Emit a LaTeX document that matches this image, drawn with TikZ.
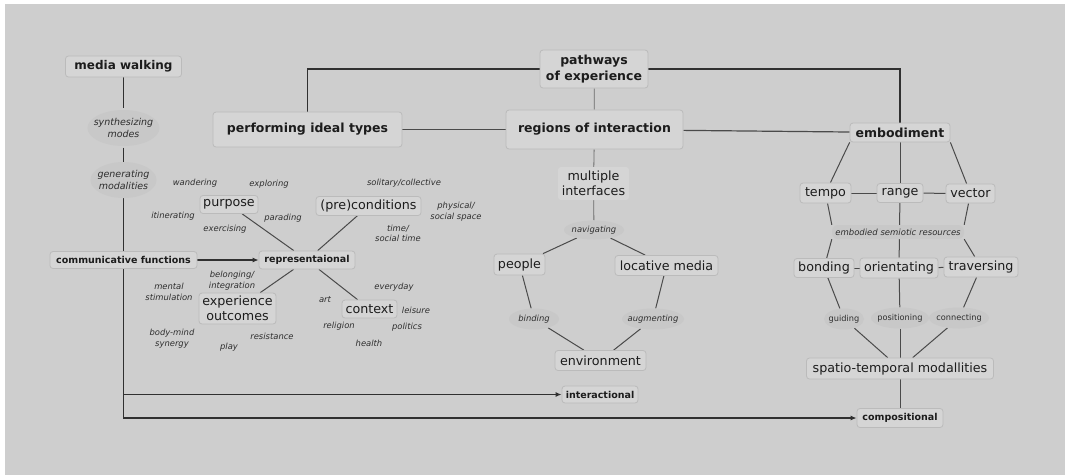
\documentclass[tikz,border=0pt]{standalone}
\usepackage{fontspec}
\setmainfont{DejaVu Sans}
\usetikzlibrary{arrows.meta,shapes.geometric,calc}
\definecolor{bg}{HTML}{CECECE}
\definecolor{boxfill}{HTML}{D5D5D5}
\definecolor{boxline}{HTML}{BBBBBB}
\definecolor{ellfill}{HTML}{C8C8C8}
\definecolor{ink}{HTML}{1C1C1C}
\definecolor{lab}{HTML}{2E2E2E}
\definecolor{edgedark}{HTML}{303030}
\definecolor{edgemid}{HTML}{4A4A4A}
\definecolor{edgelight}{HTML}{6A6A6A}
\pgfdeclarelayer{back}
\pgfdeclarelayer{edges}
\pgfsetlayers{back,edges,main}
\tikzset{
  box/.style={draw=boxline, fill=boxfill, rounded corners=3pt, line width=0.8pt,
              inner sep=0pt, align=center, text=ink},
  bigb/.style={box, font=\fontsize{12.5}{15.3}\selectfont\bfseries},
  smallb/.style={box, font=\fontsize{9.5}{11}\selectfont\bfseries},
  regbox/.style={box, font=\fontsize{12.7}{15.5}\selectfont},
  plainbox/.style={fill=boxfill, rounded corners=3pt, inner sep=0pt, align=center,
              text=ink, font=\fontsize{12.7}{15.5}\selectfont},
  oval/.style={ellipse, fill=ellfill, draw=none, inner xsep=-15pt, inner ysep=0pt,
              align=center, text=lab},
  bigoval/.style={rectangle, inner sep=0pt, align=center, text=lab,
              font=\fontsize{9.5}{12.3}\selectfont\itshape,
              path picture={\fill[ellfill] (path picture bounding box.center)
                 ellipse [x radius={#1*0.5pt}, y radius=18pt];}},
  ovalit/.style={oval, font=\fontsize{8.4}{10}\selectfont\itshape},
  ovalup/.style={oval, font=\fontsize{8.2}{10}\selectfont},
  lbl/.style={inner sep=0pt, align=center, text=lab,
              font=\fontsize{8.4}{10.6}\selectfont\itshape},
  thickline/.style={draw=edgedark, line width=1.5pt},
  midline/.style={draw=edgemid, line width=1.2pt},
  thinline/.style={draw=edgemid, line width=1pt},
  faintline/.style={draw=edgelight, line width=0.8pt},
  tip/.style={-{Latex[length=6pt,width=5pt]}}
}
\begin{document}
\begin{tikzpicture}[x=1pt,y=-1pt]
\begin{pgfonlayer}{back}
\fill[white] (0,0) rectangle (1065,475);
\fill[bg] (5,4) rectangle (1065,475);
\end{pgfonlayer}
\path[use as bounding box] (0,0) rectangle (1065,475);

% ---------- left column ----------
\node[bigb, font=\fontsize{12}{14}\selectfont\bfseries, minimum width=116, minimum height=21] (mw) at (123.5,66.5) {media walking};
\node[bigoval=72, minimum width=72, minimum height=39] (syn) at (123.5,128) {synthesizing\\modes};
\node[bigoval=66, minimum width=66, minimum height=36] (gen) at (123.5,180) {generating\\modalities};
\node[smallb, minimum width=147, minimum height=17] (cf) at (123.5,260) {communicative functions};

% ---------- top row ----------
\node[bigb, minimum width=189, minimum height=35] (pit) at (307.5,129.5) {performing ideal types};
\node[bigb, minimum width=108, minimum height=38] (poe) at (594,69) {pathways\\of experience};
\node[bigb, minimum width=177, minimum height=39] (roi) at (594.5,129.5) {regions of interaction};
\node[bigb, minimum width=100, minimum height=19] (emb) at (900,132.5) {embodiment};

% ---------- representational star ----------
\node[smallb, minimum width=96, minimum height=18] (rep) at (307,260) {representaional};
\node[regbox, minimum width=58, minimum height=18] (pur) at (229,204.5) {purpose};
\node[regbox, minimum width=105, minimum height=19] (pre) at (368.5,206) {(pre)conditions};
\node[regbox, minimum width=77, minimum height=31] (exo) at (237.5,308.5) {experience\\outcomes};
\node[regbox, minimum width=55, minimum height=18] (ctx) at (369.5,309) {context};

\node[lbl] (l1) at (195,183) {wandering};
\node[lbl] (l2) at (269,184) {exploring};
\node[lbl] (l3) at (404,183) {solitary/collective};
\node[lbl] (l4) at (173,216) {itinerating};
\node[lbl] (l5) at (283,218) {parading};
\node[lbl] (l6) at (225,229) {exercising};
\node[lbl] (l7) at (456,211.5) {physical/\\social space};
\node[lbl] (l8) at (398,233.5) {time/\\social time};
\node[lbl] (l9) at (232,280.5) {belonging/\\integration};
\node[lbl] (l10) at (169,292) {mental\\stimulation};
\node[lbl] (l11) at (325,300) {art};
\node[lbl] (l12) at (394,287) {everyday};
\node[lbl] (l13) at (416,310) {leisure};
\node[lbl] (l14) at (339,326) {religion};
\node[lbl] (l15) at (407,327) {politics};
\node[lbl] (l16) at (369,343) {health};
\node[lbl] (l17) at (172,338.5) {body-mind\\synergy};
\node[lbl] (l18) at (229,347) {play};
\node[lbl] (l19) at (272,336) {resistance};

% ---------- middle ----------
\node[plainbox, minimum width=71, minimum height=33] (mi) at (593.5,183.5) {multiple\\interfaces};
\node[ovalit, minimum width=60, minimum height=19] (nav) at (594,230) {navigating};
\node[regbox, minimum width=51, minimum height=21] (ppl) at (519.5,264.5) {people};
\node[regbox, minimum width=103, minimum height=20] (lm) at (666.5,265.5) {locative media};
\node[ovalit, minimum width=50, minimum height=21] (bind) at (534,319) {binding};
\node[ovalit, minimum width=62, minimum height=21] (aug) at (653,319) {augmenting};
\node[regbox, minimum width=91, minimum height=20] (env) at (600.5,360.5) {environment};
\node[smallb, minimum width=76, minimum height=17] (inter) at (600,394.5) {interactional};

% ---------- right ----------
\node[regbox, minimum width=51, minimum height=20] (tempo) at (825.5,193) {tempo};
\node[regbox, minimum width=46, minimum height=19] (range) at (900,193) {range};
\node[regbox, minimum width=49, minimum height=19] (vector) at (970.5,193.5) {vector};
\node[fill=ellfill, rounded corners=6pt, inner sep=0pt, minimum width=132, minimum height=14,
      text=lab, font=\fontsize{8.5}{10}\selectfont\itshape] (esr) at (898,232) {embodied semiotic resources};
\node[regbox, minimum width=60, minimum height=19] (bond) at (824,268) {bonding};
\node[regbox, minimum width=78, minimum height=20] (orient) at (899,268) {orientating};
\node[regbox, minimum width=74, minimum height=20] (trav) at (981,267) {traversing};
\node[ovalup, minimum width=40, minimum height=21] (guid) at (844,319) {guiding};
\node[ovalup, minimum width=58, minimum height=21] (pos) at (900,318) {positioning};
\node[ovalup, minimum width=60, minimum height=21] (conn) at (959,318) {connecting};
\node[regbox, minimum width=187, minimum height=21] (stm) at (900,368.5) {spatio-temporal modallities};
\node[smallb, minimum width=86, minimum height=19] (comp) at (900,418) {compositional};

% ---------- connectors ----------
\begin{pgfonlayer}{edges}
% left column
\draw[thickline] (mw) -- (syn);
\draw[thickline] (syn) -- (gen);
\draw[thickline] (gen) -- (cf);
\draw[thickline, tip] (cf.south) |- (comp.west);
\draw[thickline, tip] (cf.south |- inter.west) -- (inter.west);
\draw[thickline, tip] (cf.east) -- (rep.west);
% top
\draw[thickline] (poe.west) -| (pit.north);
\draw[thickline] (poe.east) -| (emb.north);
\draw[faintline] (poe) -- (roi);
\draw[midline] (pit) -- (roi);
\draw[midline] (roi) -- (emb);
% star
\draw[thinline] (pur) -- (rep);
\draw[thinline] (pre) -- (rep);
\draw[thinline] (rep) -- (exo);
\draw[thinline] (rep) -- (ctx);
% middle
\draw[faintline] (roi) -- (mi);
\draw[faintline] (mi) -- (nav);
\draw[thinline] (nav) -- (ppl);
\draw[thinline] (nav) -- (lm);
\draw[thinline] (ppl) -- (bind);
\draw[thinline] (bind) -- (env);
\draw[thinline] (lm) -- (aug);
\draw[thinline] (aug) -- (env);
% right
\draw[thinline] (emb.south west) -- (tempo);
\draw[thinline] (emb) -- (range);
\draw[thinline] (emb.south east) -- (vector);
\draw[thinline] (tempo) -- (range);
\draw[thinline] (range) -- (vector);
\draw[thinline] (tempo) -- (esr.north west);
\draw[thinline] (esr.south west) -- (bond);
\draw[thinline] (range) -- (orient);
\draw[thinline] (vector) -- (esr.north east);
\draw[thinline] (esr.south east) -- (trav);
\draw[thinline] (bond) -- (orient);
\draw[thinline] (orient) -- (trav);
\draw[thinline] (bond) -- (guid);
\draw[thinline] (orient) -- (pos);
\draw[thinline] (trav) -- (conn);
\draw[thinline] (guid) -- (stm);
\draw[thinline] (pos) -- (stm);
\draw[thinline] (conn) -- (stm);
\draw[thinline] (stm) -- (comp);
\end{pgfonlayer}
\end{tikzpicture}
\end{document}
